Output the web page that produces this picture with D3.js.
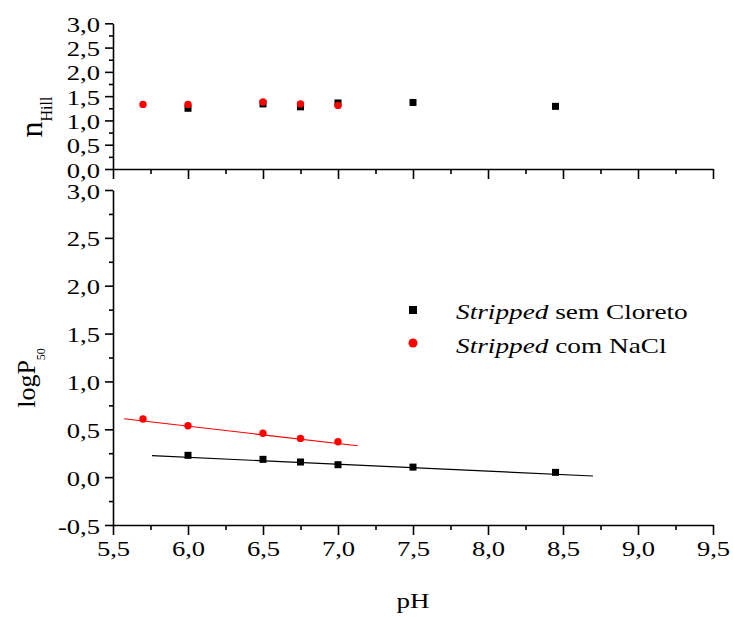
<!DOCTYPE html>
<html>
<head>
<meta charset="utf-8">
<script src="https://cdn.jsdelivr.net/npm/d3@7"></script>
<style>
  html, body { margin: 0; padding: 0; background: #fff; }
  svg { display: block; font-family: "Liberation Serif", "Times New Roman", serif; }
</style>
</head>
<body>
<svg id="chart" width="733" height="617"></svg>
<script>
// pH values and measured parameters, stripped haemoglobin without chloride
const pHSem = [6.0, 6.5, 6.75, 7.0, 7.5, 8.45];
const nHillSem = [1.25, 1.34, 1.28, 1.36, 1.37, 1.29];
const logP50Sem = [0.228, 0.186, 0.158, 0.130, 0.105, 0.050];

// same, with NaCl
const pHNaCl = [5.7, 6.0, 6.5, 6.75, 7.0];
const nHillNaCl = [1.33, 1.33, 1.38, 1.34, 1.31];
const logP50NaCl = [0.607, 0.537, 0.458, 0.405, 0.370];

// linear fits (end points) of logP50 vs pH
const fitSemPH = [5.76, 8.70];
const fitSemLogP50 = [0.224, 0.012];
const fitNaClPH = [5.573, 7.131];
const fitNaClLogP50 = [0.610, 0.328];

// axis ticks
const xTicks = [5.5, 6.0, 6.5, 7.0, 7.5, 8.0, 8.5, 9.0, 9.5];
const xMinorTicks = [5.75, 6.25, 6.75, 7.25, 7.75, 8.25, 8.75, 9.25];
const yTopTicks = [0.0, 0.5, 1.0, 1.5, 2.0, 2.5, 3.0];
const yTopMinorTicks = [0.25, 0.75, 1.25, 1.75, 2.25, 2.75];
const yBotTicks = [-0.5, 0.0, 0.5, 1.0, 1.5, 2.0, 2.5, 3.0];
const yBotMinorTicks = [-0.25, 0.25, 0.75, 1.25, 1.75, 2.25, 2.75];

const legendLabels = [
  { italic: "Stripped", rest: " sem Cloreto" },
  { italic: "Stripped", rest: " com NaCl" }
];

const svg = d3.select("#chart");
const SX = 1.33;          // horizontal stretch of the serif lettering
const TICK_FONT = 20;

const fmt = d3.formatLocale({ decimal: ",", thousands: ".", grouping: [3], currency: ["", ""], minus: "-" }).format(".1f");

const x = d3.scaleLinear().domain([5.5, 9.5]).range([113, 713]);
const yTop = d3.scaleLinear().domain([0, 3]).range([169, 23.3]);
const yBot = d3.scaleLinear().domain([-0.5, 3]).range([525, 190]);

const AXIS_W = 1.6;

function styleAxis(g) {
  g.selectAll("path.domain").attr("stroke", "#000").attr("stroke-width", AXIS_W);
  g.selectAll(".tick line").attr("stroke", "#000").attr("stroke-width", AXIS_W);
}

// ---- x axes (top panel without labels, bottom panel with labels) ----
function drawXAxis(yPos, withLabels) {
  const g = svg.append("g").attr("transform", `translate(0,${yPos})`);
  g.call(d3.axisBottom(x).tickValues(xTicks).tickSize(10).tickSizeOuter(0)
    .tickFormat(withLabels ? fmt : () => ""));
  styleAxis(g);
  const gm = svg.append("g").attr("transform", `translate(0,${yPos})`);
  gm.call(d3.axisBottom(x).tickValues(xMinorTicks).tickSize(5).tickFormat(() => ""));
  gm.select("path.domain").remove();
  styleAxis(gm);
  if (withLabels) {
    g.selectAll(".tick text")
      .attr("font-family", "Liberation Serif")
      .attr("font-size", TICK_FONT)
      .attr("fill", "#000")
      .attr("y", 31).attr("dy", null)
      .attr("transform", `scale(${SX},1)`);
  }
}
drawXAxis(yTop(0), false);
drawXAxis(yBot(-0.5), true);

// ---- y axes ----
function drawYAxis(scale, ticks, minor) {
  const g = svg.append("g").attr("transform", `translate(${x(5.5)},0)`);
  g.call(d3.axisLeft(scale).tickValues(ticks).tickSize(8).tickSizeOuter(0).tickFormat(fmt));
  styleAxis(g);
  g.selectAll(".tick text")
    .attr("font-family", "Liberation Serif")
    .attr("font-size", TICK_FONT)
    .attr("fill", "#000")
    .attr("x", -13 / SX)
    .attr("dy", "0.4em")
    .attr("transform", `scale(${SX},1)`);
  const gm = svg.append("g").attr("transform", `translate(${x(5.5)},0)`);
  gm.call(d3.axisLeft(scale).tickValues(minor).tickSize(4).tickFormat(() => ""));
  gm.select("path.domain").remove();
  styleAxis(gm);
}
drawYAxis(yTop, yTopTicks, yTopMinorTicks);
drawYAxis(yBot, yBotTicks, yBotMinorTicks);

// ---- fit lines ----
const line = d3.line().x(d => x(d[0])).y(d => yBot(d[1]));
svg.append("path")
  .attr("d", line(d3.zip(fitSemPH, fitSemLogP50)))
  .attr("fill", "none").attr("stroke", "#000").attr("stroke-width", 1.2);
svg.append("path")
  .attr("d", line(d3.zip(fitNaClPH, fitNaClLogP50)))
  .attr("fill", "none").attr("stroke", "#ff0000").attr("stroke-width", 1.2);

// ---- markers ----
const SQ = 7, R = 3.7;
function squares(xs, ys, yScale) {
  svg.append("g").selectAll("rect").data(d3.zip(xs, ys)).join("rect")
    .attr("x", d => x(d[0]) - SQ / 2).attr("y", d => yScale(d[1]) - SQ / 2)
    .attr("width", SQ).attr("height", SQ).attr("fill", "#000");
}
function circles(xs, ys, yScale) {
  svg.append("g").selectAll("circle").data(d3.zip(xs, ys)).join("circle")
    .attr("cx", d => x(d[0])).attr("cy", d => yScale(d[1]))
    .attr("r", R).attr("fill", "#ff0000");
}
squares(pHSem, nHillSem, yTop);
circles(pHNaCl, nHillNaCl, yTop);
squares(pHSem, logP50Sem, yBot);
circles(pHNaCl, logP50NaCl, yBot);

// ---- axis titles ----
svg.append("g").attr("transform", `translate(${(x(5.5) + x(9.5)) / 2},608) scale(1.35,1)`)
  .append("text").attr("text-anchor", "middle").attr("font-size", 20).text("pH");

const tLog = svg.append("text")
  .attr("transform", "translate(35,378) rotate(-90)")
  .attr("text-anchor", "middle").attr("font-size", 26);
tLog.append("tspan").text("logP");
tLog.append("tspan").attr("font-size", 12).attr("dy", 10).text("50");

const tHill = svg.append("text")
  .attr("transform", "translate(42,117) rotate(-90)")
  .attr("text-anchor", "middle").attr("font-size", 32);
tHill.append("tspan").text("n");
tHill.append("tspan").attr("font-size", 16).attr("dy", 10).text("Hill");

// ---- legend ----
const legend = svg.append("g");
const legRows = [
  { y: 312, shape: "square" },
  { y: 346, shape: "circle" }
];
legRows.forEach((row, i) => {
  if (row.shape === "square") {
    legend.append("rect").attr("x", 413 - 4).attr("y", row.y - 4 - 2)
      .attr("width", 8).attr("height", 8).attr("fill", "#000");
  } else {
    legend.append("circle").attr("cx", 413).attr("cy", row.y - 2 - 1)
      .attr("r", 4.5).attr("fill", "#ff0000");
  }
  const t = legend.append("g").attr("transform", `translate(456,${row.y + 7}) scale(1.24,1)`)
    .append("text").attr("font-size", 22).attr("fill", "#000");
  t.append("tspan").attr("font-style", "italic").text(legendLabels[i].italic);
  t.append("tspan").text(legendLabels[i].rest);
});
</script>
</body>
</html>
